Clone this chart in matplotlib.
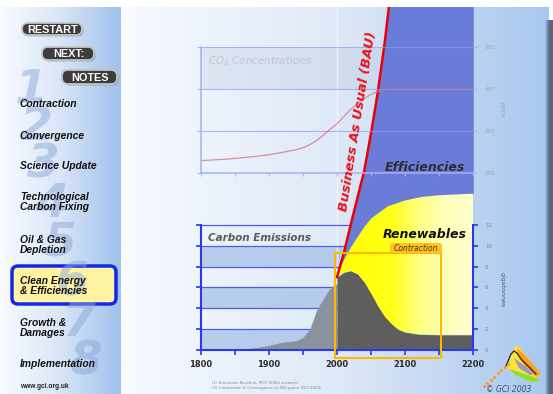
import matplotlib
matplotlib.use('Agg')
import matplotlib.pyplot as plt
import numpy as np
from matplotlib.colors import LinearSegmentedColormap
from matplotlib.patches import FancyBboxPatch, Polygon, Rectangle

W, H = 553, 394

# carbon emissions (GtC)
hist_years = [1800, 1820, 1840, 1860, 1870, 1880, 1890, 1900, 1910, 1920, 1930, 1940,
              1950, 1955, 1960, 1965, 1970, 1975, 1980, 1985, 1990, 1995, 2000]
hist_gtc = [0.02, 0.03, 0.05, 0.1, 0.15, 0.22, 0.32, 0.45, 0.6, 0.75, 0.82, 0.9,
            1.2, 1.6, 2.0, 2.9, 3.8, 4.4, 4.9, 5.5, 5.9, 6.2, 6.4]
contr_years = [2000, 2010, 2020, 2030, 2040, 2050, 2060, 2070, 2080, 2090, 2100, 2120, 2150, 2200]
contr_gtc = [7.0, 7.45, 7.6, 7.3, 6.5, 5.4, 4.2, 3.2, 2.5, 1.95, 1.7, 1.5, 1.45, 1.45]
# contraction + renewables
total_years = [2000, 2010, 2020, 2030, 2040, 2050, 2060, 2075, 2100, 2125, 2150, 2200]
total_gtc = [7.0, 8.6, 9.8, 10.8, 11.8, 12.6, 13.1, 13.8, 14.35, 14.7, 14.85, 15.0]
bau_years = [2000, 2010, 2020, 2030, 2040, 2050, 2060, 2070, 2080]
bau_gtc = [7.0, 9.3, 12.0, 14.6, 17.2, 20.8, 24.8, 29.5, 35.0]

# CO2 concentrations (ppmv)
co2_years = [1800, 1840, 1880, 1900, 1920, 1940, 1950, 1960, 1970, 1980, 1990, 2000,
             2010, 2020, 2030, 2040, 2050, 2060, 2070, 2080, 2200]
co2_ppm = [280, 284, 290, 294, 300, 306, 311, 318, 328, 341, 355, 368,
           385, 402, 416, 428, 438, 445, 449, 450, 450]

emis_ticks = [0, 2, 4, 6, 8, 10, 12]
co2_ticks = [250, 350, 450, 550]
year_ticks = list(range(1800, 2201, 50))
year_labels = ['1800', '', '1900', '', '2000', '', '2100', '', '2200']

menu_items = ['Contraction', 'Convergence', 'Science Update', 'Technological\nCarbon Fixing',
              'Oil & Gas\nDepletion', 'Clean Energy\n& Efficiencies', 'Growth &\nDamages',
              'Implementation']
buttons = ['RESTART', 'NEXT:', 'NOTES']

BLUE = '#2a38ee'


def rect(x0, y0, x1, y1):
    return [x0 / W, 1 - y1 / H, (x1 - x0) / W, (y1 - y0) / H]


fig = plt.figure(figsize=(W / 100, H / 100), dpi=100)

# ---- background / sidebar (pixel coords)
bg = fig.add_axes([0, 0, 1, 1], zorder=0)
grad = np.linspace(0, 1, 256)[None, :]
side_cm = LinearSegmentedColormap.from_list('side', ['#f8fbff', '#d9e6f7', '#a0c1ec'])
main_cm = LinearSegmentedColormap.from_list('main', ['#f7faff', '#dfe9f7', '#a8c7ee'])
bg.imshow(grad, cmap=side_cm, extent=[0, 121, H, 7], aspect='auto', zorder=0)
bg.imshow(grad, cmap=main_cm, extent=[121, 549, H, 7], aspect='auto', zorder=0)
strip_cm = LinearSegmentedColormap.from_list('strip', ['#a8c7ee', '#5d6d84', '#55657c'])
bg.imshow(grad, cmap=strip_cm, extent=[545, 553, H, 20], aspect='auto', zorder=0)

# highlighted menu entry
bg.add_patch(FancyBboxPatch((12, 266), 104, 38, boxstyle='round,pad=0,rounding_size=6',
                            fc='#fff3a3', ec='#1428e8', lw=2.5, zorder=2))

# big faded step numbers behind the menu
digit_pos = [(31, 90), (36, 127), (43, 165), (51, 204), (60, 243), (72, 283), (79, 324), (86, 362)]
for i, (dx, dy) in enumerate(digit_pos):
    bg.text(dx, dy, str(i + 1), fontsize=34, fontweight='bold', style='italic',
            color='#8ea7d9', alpha=0.5, ha='center', va='center', zorder=3)

btn_box = [(22, 23, 82, 35), (42, 47, 94, 60), (62, 70, 117, 84)]
for name, (x0, y0, x1, y1) in zip(buttons, btn_box):
    bg.add_patch(FancyBboxPatch((x0 + 1.5, y0 + 1.5), x1 - x0, y1 - y0,
                                boxstyle='round,pad=0,rounding_size=6', fc='#7a8aa0',
                                ec='none', alpha=0.6, zorder=3))
    bg.add_patch(FancyBboxPatch((x0, y0), x1 - x0, y1 - y0,
                                boxstyle='round,pad=0,rounding_size=6', fc='#3d3d3d',
                                ec='#c4c4c4', lw=1.3, zorder=4))
    bg.text((x0 + x1) / 2 + 1, (y0 + y1) / 2 + 0.5, name, color='white', fontsize=7.8,
            fontweight='bold', family='Liberation Sans', ha='center', va='center', zorder=5)

menu_y = [104, 136, 166, 202, 245, 286, 328, 364]
for item, my in zip(menu_items, menu_y):
    bg.text(20, my, item, fontsize=7.4, fontweight='bold', style='italic',
            family='Liberation Sans', color='#111111', ha='left', va='center',
            linespacing=0.95, zorder=5)
bg.text(20, 386, 'www.gci.org.uk', fontsize=4.8, fontweight='bold',
        family='Liberation Sans', color='#222222', ha='left', va='center', zorder=5)

# footnotes
bg.text(212, 383, '(1) Emissions Baseline: IPCC IS92a scenario', fontsize=2.8,
        color='#7c8595', ha='left', va='center')
bg.text(212, 388, '(2) Contraction & Convergence at 450 ppmv (GCI 2003)', fontsize=2.8,
        color='#7c8595', ha='left', va='center')

# small logo
bg.add_patch(Polygon([(507, 369), (512, 353), (516, 345), (521, 349), (529, 360), (540, 374),
                      (536, 378), (521, 372)], fc='#ffe23a', ec='none', zorder=2))
bg.add_patch(Polygon([(517, 348), (523, 353), (532, 363), (541, 374), (536, 377), (526, 368),
                      (519, 358)], fc='#ffa21a', ec='none', zorder=2))
bg.add_patch(Polygon([(514, 358), (525, 366), (534, 374), (530, 375), (519, 368)],
                     fc='#9a98bb', ec='none', zorder=2))
bg.add_patch(Polygon([(510, 369), (521, 373), (536, 378), (541, 381), (532, 382), (515, 375)],
                     fc='#8ee21c', ec='none', zorder=2))
bg.plot([506, 511, 514, 517, 521, 528, 536], [366, 354, 351, 353, 359, 366, 374],
        color='#222222', lw=0.9, zorder=3)
bg.scatter(np.linspace(484, 508, 8), np.linspace(386, 364, 8), s=1.5, color='#ff9a20', zorder=3)
bg.text(509, 389.5, '© GCI 2003', fontsize=5.5, style='italic', color='#44506a',
        ha='center', va='center', zorder=3)

bg.set_xlim(0, W)
bg.set_ylim(H, 0)
bg.axis('off')

# ---- CO2 band layer (below emissions areas)
co_rect = rect(200.7, 47.3, 473.3, 173.3)
cb = fig.add_axes(co_rect, zorder=1)
cb.set_xlim(1800, 2200)
cb.set_ylim(250, 550)
cb.axhspan(450, 550, color='#b4c3dc', alpha=0.28, lw=0)
cb.axis('off')

# ---- emissions axes
ax = fig.add_axes(rect(200.7, 7, 473.3, 350), zorder=2)
ax.patch.set_alpha(0)
for lo in (0, 4, 8):
    ax.axhspan(lo, lo + 2, color='#a7c1e5', alpha=0.75, lw=0, zorder=0.5)
ax.hlines(emis_ticks[1:], 1800, 2200, color='#4c5cf2', lw=0.9, zorder=0.8)
ax.axvline(2000, color='white', lw=1.0, alpha=0.6, zorder=0.6)

ax.fill_between(hist_years, 0, hist_gtc, color='#8a929e', lw=0, zorder=2)

fy = np.arange(2000, 2201)
contr = np.interp(fy, contr_years, contr_gtc)
total = np.interp(fy, total_years, total_gtc)
bau = np.interp(fy, bau_years, bau_gtc)

ax.fill_between(fy, total, bau, color='#6b7bd8', lw=0, zorder=2)
ren = Polygon(np.column_stack([np.r_[fy, fy[::-1]], np.r_[contr, total[::-1]]]),
              closed=True, fc='none', ec='none', transform=ax.transData)
ax.add_patch(ren)
yel_cm = LinearSegmentedColormap.from_list(
    'yel', [(0, '#ffff00'), (0.4, '#ffff18'), (0.6, '#ffff80'), (0.8, '#ffffbc'), (1, '#ffffcc')])
im = ax.imshow(grad, cmap=yel_cm, extent=[2000, 2200, 0, 16], aspect='auto', zorder=2.1)
im.set_clip_path(ren)
ax.fill_between(fy, 0, contr, color='#5e5e5e', lw=0, zorder=2.2)
ax.plot(fy, bau, color='#e8000a', lw=1.8, zorder=3)

ax.add_patch(Rectangle((1997, -0.75), 155.5, 10.05, fill=False, ec='#ffb700', lw=1.5,
                       zorder=4, clip_on=False))

ax.set_xlim(1800, 2200)
ax.set_ylim(0, 343 / 10.42)
ax.spines['top'].set_visible(False)
for s in ('left', 'right'):
    ax.spines[s].set_bounds(0, 12)
for s in ('left', 'right', 'bottom'):
    ax.spines[s].set_color(BLUE)
    ax.spines[s].set_linewidth(1.5)
ax.set_yticks(emis_ticks)
ax.yaxis.set_ticks_position('both')
ax.tick_params(axis='y', direction='out', length=3.5, width=1.2, color=BLUE,
               labelleft=False, labelright=True, labelsize=4, labelcolor='#7d8aa2', pad=5)
ax.set_xticks(year_ticks)
ax.set_xticklabels(year_labels, fontweight='bold', fontsize=6, color='#2b2b2b')
ax.tick_params(axis='x', direction='out', length=3.5, width=1.2, color=BLUE, pad=3.5)

# ---- CO2 axes on top
co = fig.add_axes(co_rect, zorder=3)
co.patch.set_alpha(0)
co.hlines(co2_ticks[1:], 1800, 2200, color='#8f9cf0', lw=0.8, alpha=0.7)
co.plot(co2_years, co2_ppm, color='#d0707c', lw=0.9, alpha=0.75)
co.set_xlim(1800, 2200)
co.set_ylim(250, 550)
co.spines['top'].set_visible(False)
co.spines['right'].set_visible(False)
for s in ('left', 'bottom'):
    co.spines[s].set_color('#a6b0f2')
    co.spines[s].set_linewidth(1.1)
co.set_yticks(co2_ticks)
co.yaxis.set_ticks_position('both')
co.tick_params(axis='y', direction='out', length=3, width=0.8, color='#a6b0f2',
               labelleft=False, labelright=True, labelsize=4, labelcolor='#a0a8bc', pad=5)
co.set_xticks(year_ticks)
co.tick_params(axis='x', direction='out', length=2.5, width=0.8, color='#a6b0f2',
               labelbottom=False)
co.text(0.027, 0.89, 'CO$_2$ Concentrations', transform=co.transAxes, fontsize=7.5,
        style='italic', color='#c3c8d2', ha='left', va='center')

# ---- top overlay (labels, pixel coords)
top = fig.add_axes([0, 0, 1, 1], zorder=5)
top.patch.set_alpha(0)
top.add_patch(Rectangle((0, 0), W, 7, fc='white', ec='none'))
top.text(208, 238, 'Carbon Emissions', fontsize=7.5, fontweight='bold', style='italic',
         color='#5a5a5a', ha='left', va='center')
top.text(425, 167, 'Efficiencies', fontsize=9, fontweight='bold', style='italic',
         color='#2e2e2e', ha='center', va='center')
top.text(425, 234, 'Renewables', fontsize=9, fontweight='bold', style='italic',
         color='#111111', ha='center', va='center')
top.text(358, 121, 'Business As Usual (BAU)', fontsize=9.5, fontweight='bold', style='italic',
         color='#e8141c', ha='center', va='center', rotation=81, rotation_mode='anchor')
top.add_patch(FancyBboxPatch((390, 243), 52, 10, boxstyle='round,pad=0,rounding_size=2.5',
                             fc='#ffc125', ec='none'))
top.text(416, 248.5, 'Contraction', fontsize=5.5, style='italic', color='#4a3a00',
         ha='center', va='center')
top.text(502, 110, 'ppmv', fontsize=4, color='#98a2b8', rotation=270, ha='center', va='center')
top.text(502, 290, 'gigatonnes', fontsize=4.5, color='#4c5670', rotation=270,
         ha='center', va='center')
top.set_xlim(0, W)
top.set_ylim(H, 0)
top.axis('off')

fig.savefig('out.png', dpi=100)
